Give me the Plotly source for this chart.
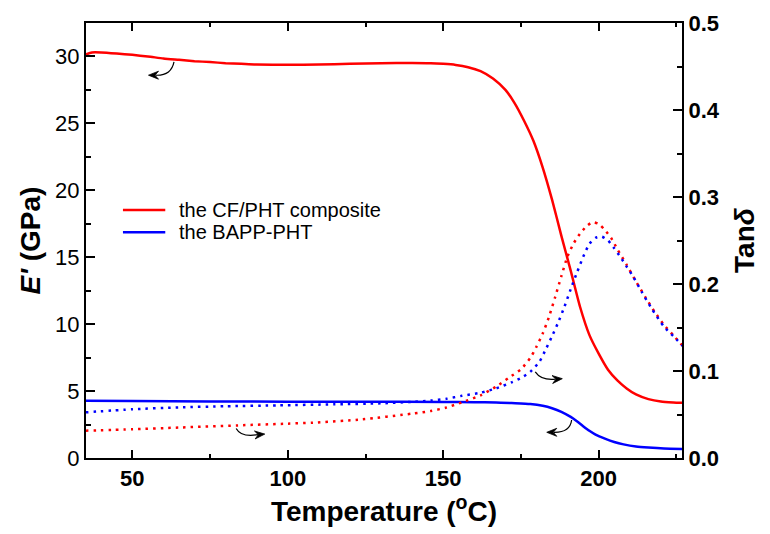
import math
import plotly.graph_objects as go

# ---- data ----
t_red_E = [35, 37, 40, 45, 50, 55, 60, 65, 70, 75, 80, 85, 90, 100, 110, 120, 130, 140, 146, 150,
           154, 158, 162, 166, 170, 173, 176, 179, 182, 185, 188, 191, 194, 197, 200, 203, 206, 209,
           212, 216, 220, 224, 227]
e_red = [30.15, 30.3, 30.3, 30.22, 30.12, 30.0, 29.85, 29.75, 29.65, 29.58, 29.5, 29.45, 29.4, 29.38,
         29.4, 29.45, 29.5, 29.52, 29.5, 29.45, 29.37, 29.2, 28.9, 28.35, 27.5, 26.5, 25.2, 23.7, 21.7,
         19.3, 16.6, 14.0, 11.3, 9.2, 7.8, 6.6, 5.8, 5.2, 4.75, 4.4, 4.22, 4.15, 4.12]

t_blue_E = [35, 50, 75, 100, 125, 150, 160, 167, 172, 178, 182, 185, 188, 191, 193, 195, 197, 199,
            202, 205, 208, 212, 216, 221, 227]
e_blue = [4.28, 4.26, 4.23, 4.21, 4.2, 4.19, 4.17, 4.15, 4.1, 4.03, 3.9, 3.72, 3.45, 3.07, 2.75, 2.38,
          2.03, 1.75, 1.45, 1.2, 1.02, 0.86, 0.78, 0.71, 0.67]

t_red_tan = [35, 50, 65, 84, 100, 108, 124, 140, 146, 151, 156, 162, 167, 171, 175, 178, 180, 182,
             184, 186, 188, 190, 192, 194, 196, 198, 200, 202, 204, 206, 209, 212, 215, 218, 221, 224, 227]
tan_red = [0.0314, 0.033, 0.035, 0.0375, 0.0395, 0.0406, 0.0444, 0.051, 0.054, 0.058, 0.064, 0.072,
           0.082, 0.092, 0.102, 0.115, 0.128, 0.143, 0.162, 0.185, 0.209, 0.232, 0.247, 0.258, 0.266,
           0.271, 0.269, 0.262, 0.253, 0.240, 0.222, 0.203, 0.185, 0.168, 0.153, 0.141, 0.129]

t_blue_tan = [35, 50, 65, 80, 97, 115, 130, 140, 146, 151, 156, 162, 167, 172, 175, 178, 181, 183,
              185, 187, 189, 191, 193, 195, 197, 199, 201, 203, 205, 207, 209, 211, 214, 217, 221, 224, 227]
tan_blue = [0.0525, 0.056, 0.0582, 0.0595, 0.0605, 0.0617, 0.0628, 0.0645, 0.066, 0.068, 0.0715,
            0.075, 0.080, 0.087, 0.092, 0.099, 0.111, 0.125, 0.14, 0.156, 0.174, 0.194, 0.213, 0.231,
            0.246, 0.253, 0.2545, 0.25, 0.241, 0.231, 0.22, 0.209, 0.19, 0.172, 0.151, 0.14, 0.129]

names = ["the CF/PHT composite", "the BAPP-PHT"]
RED = "#FF0000"
BLUE = "#0000FF"
colors = [RED, BLUE]
FONT = "Arial, 'Liberation Sans', sans-serif"

X_RANGE = [35.1, 226.8]
Y_RANGE = [0, 32.5]
Y2_RANGE = [0, 0.5]
W, H = 770, 534
M = dict(l=86, r=88, t=23, b=76)
plot_w = W - M["l"] - M["r"]
plot_h = H - M["t"] - M["b"]
px_per = {"x": plot_w / (X_RANGE[1] - X_RANGE[0]),
          "y": plot_h / (Y_RANGE[1] - Y_RANGE[0]),
          "y2": plot_h / (Y2_RANGE[1] - Y2_RANGE[0])}

fig = go.Figure()
fig.add_trace(go.Scatter(x=t_red_E, y=e_red, mode="lines", name=names[0], showlegend=False,
                         line=dict(color=RED, width=2.5, shape="spline", smoothing=0.6)))
fig.add_trace(go.Scatter(x=t_blue_E, y=e_blue, mode="lines", name=names[1], showlegend=False,
                         line=dict(color=BLUE, width=2.5, shape="spline", smoothing=0.6)))
fig.add_trace(go.Scatter(x=t_red_tan, y=tan_red, mode="lines", showlegend=False, yaxis="y2",
                         name=names[0] + " (Tanδ)",
                         line=dict(color=RED, width=2.5, dash="2.5px,5px", shape="spline", smoothing=0.6)))
fig.add_trace(go.Scatter(x=t_blue_tan, y=tan_blue, mode="lines", showlegend=False, yaxis="y2",
                         name=names[1] + " (Tanδ)",
                         line=dict(color=BLUE, width=2.5, dash="2.5px,5px", shape="spline", smoothing=0.6)))

# curved arrows: (start, control, tip, pre-tip, yref)
arrows = [
    ((63.4, 29.6), (62.5, 28.55), (55.2, 28.6), (57.5, 28.6), "y"),
    ((83.4, 0.034), (85.0, 0.0235), (92.6, 0.0275), (90.4, 0.0268), "y2"),
    ((179.6, 0.099), (181.5, 0.089), (188.3, 0.0912), (186.0, 0.0905), "y2"),
    ((191.3, 2.84), (190.8, 1.9), (183.3, 1.92), (185.6, 1.92), "y"),
]
shapes = []
annots = []
HEAD_LEN, HEAD_HW, NOTCH = 10.0, 4.0, 6.5
for (s, c, tip, pre, yr) in arrows:
    shapes.append(dict(type="path", xref="x", yref=yr,
                       path=f"M {s[0]},{s[1]} Q {c[0]},{c[1]} {pre[0]},{pre[1]}",
                       line=dict(color="black", width=1.2)))
    # arrowhead as a notched filled triangle, computed in pixel space then mapped back
    sx, sy = px_per["x"], px_per[yr]
    dxp = (tip[0] - pre[0]) * sx
    dyp = (tip[1] - pre[1]) * sy
    L = math.hypot(dxp, dyp)
    ux, uy = dxp / L, dyp / L
    nx, ny = -uy, ux

    def to_data(px, py):
        return tip[0] + px / sx, tip[1] + py / sy

    b1 = to_data(-ux * HEAD_LEN + nx * HEAD_HW, -uy * HEAD_LEN + ny * HEAD_HW)
    b2 = to_data(-ux * NOTCH, -uy * NOTCH)
    b3 = to_data(-ux * HEAD_LEN - nx * HEAD_HW, -uy * HEAD_LEN - ny * HEAD_HW)
    shapes.append(dict(type="path", xref="x", yref=yr,
                       path=(f"M {tip[0]},{tip[1]} L {b1[0]},{b1[1]} L {b2[0]},{b2[1]} "
                             f"L {b3[0]},{b3[1]} Z"),
                       fillcolor="black", line=dict(color="black", width=0.8)))

# custom legend (paper coordinates)
leg_x0, leg_x1, leg_tx = 0.062, 0.133, 0.152
leg_rows = [0.570, 0.519]
for name, col, yy in zip(names, colors, leg_rows):
    shapes.append(dict(type="line", xref="paper", yref="paper", x0=leg_x0, x1=leg_x1, y0=yy, y1=yy,
                       line=dict(color=col, width=2.5)))
    annots.append(dict(x=leg_tx, y=yy, xref="paper", yref="paper", text=name, showarrow=False,
                       xanchor="left", yanchor="middle", font=dict(size=20, family=FONT, color="black")))

fig.update_layout(
    width=W, height=H,
    margin=M,
    paper_bgcolor="white", plot_bgcolor="white",
    font=dict(family=FONT, color="black"),
    showlegend=False,
    shapes=shapes,
    annotations=annots,
    xaxis=dict(range=X_RANGE, tickmode="linear", tick0=0, dtick=50,
               ticks="inside", ticklen=8, tickwidth=2, tickcolor="black",
               minor=dict(dtick=25, tick0=0, ticks="inside", ticklen=4, tickwidth=1.5, tickcolor="black"),
               showline=True, linecolor="black", linewidth=2, mirror="ticks",
               showgrid=False, zeroline=False,
               tickfont=dict(size=22, family=FONT, weight="bold"),
               title=dict(text="<b>Temperature (<sup>o</sup>C)</b>", font=dict(size=28, family=FONT),
                          standoff=6)),
    yaxis=dict(range=Y_RANGE, tickmode="linear", tick0=0, dtick=5,
               ticks="inside", ticklen=9, tickwidth=2, tickcolor="black",
               minor=dict(dtick=2.5, tick0=0, ticks="inside", ticklen=5, tickwidth=1.5, tickcolor="black"),
               showline=True, linecolor="black", linewidth=2,
               showgrid=False, zeroline=False,
               tickfont=dict(size=22, family=FONT),
               title=dict(text="<b><i>E'</i> (GPa)</b>", font=dict(size=28, family=FONT), standoff=6)),
    yaxis2=dict(range=Y2_RANGE, overlaying="y", side="right", tickmode="linear", tick0=0, dtick=0.1,
                tickformat=".1f",
                ticks="inside", ticklen=9, tickwidth=2, tickcolor="black",
                minor=dict(dtick=0.05, tick0=0, ticks="inside", ticklen=5, tickwidth=1.5, tickcolor="black"),
                showline=True, linecolor="black", linewidth=2,
                showgrid=False, zeroline=False,
                tickfont=dict(size=22, family=FONT, weight="bold"),
                title=dict(text="<b>Tan<i>δ</i></b>", font=dict(size=28, family=FONT), standoff=16)),
)

fig.write_html("out.html")
